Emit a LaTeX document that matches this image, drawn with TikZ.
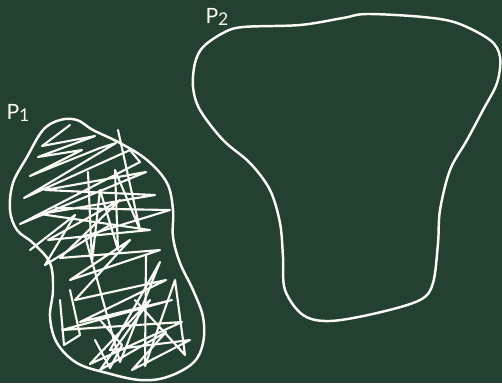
\documentclass[tikz,border=0pt]{standalone}
\usepackage{fontspec}
\setmainfont{Lato}
\definecolor{board}{RGB}{36,64,49}
\definecolor{chalk}{RGB}{250,250,244}
\newcommand{\lowsub}[1]{\raisebox{-0.25ex}{\normalsize #1}}
\tikzset{
  outline/.style={chalk, line width=1.4pt, line join=round},
  scribble/.style={chalk, line width=1.2pt, line join=round, line cap=round},
  lab/.style={text=chalk, font=\large}
}
\begin{document}
\begin{tikzpicture}[x={(0.02cm,0)}, y={(0,-0.02cm)}]
\fill[board] (0,0) rectangle (502,383);
\useasboundingbox (0,0) rectangle (502,383);
% labels
\node[lab] (p1) at (18,113) {P\lowsub{1}};
\node[lab] (p2) at (217,17) {P\lowsub{2}};
% region P1
\draw[outline] plot[smooth cycle, tension=0.6] coordinates {
 (60,120) (43,130) (27,157) (13,183) (10,210) (17,230) (33,243) (50,263)
 (53,290) (50,317) (57,343) (77,363) (107,373) (140,380) (167,377)
 (193,363) (203,343) (203,317) (193,290) (180,263) (173,237) (173,210)
 (167,183) (147,160) (120,143) (93,130) (77,120)};
% scribble inside P1
\draw[scribble] (70,125) -- (42,146) -- (95,136) -- (38,157) -- (82,150)
 -- (30,176) -- (100,148) -- (116,143) -- (24,198) -- (130,150) -- (140,162)
 -- (20,224) -- (146,172) -- (45,190) -- (155,195) -- (40,214) -- (150,230)
 -- (48,240) -- (120,200) -- (60,258) -- (160,250) -- (70,280) -- (130,240)
 -- (75,300) -- (166,280) -- (80,322) -- (172,300) -- (62,330) -- (182,322)
 -- (90,364) -- (150,300) -- (100,370) -- (166,332) -- (132,370) -- (190,340)
 -- (110,350) -- (160,262) -- (120,362) -- (85,236) -- (170,210) -- (56,208);
\draw[scribble] (88,172) -- (92,262) -- (100,190) -- (118,250) -- (115,170)
 -- (140,230) -- (118,130);
\draw[scribble] (146,255) -- (145,366) -- (175,280) -- (185,355) -- (135,300);
\draw[scribble] (60,300) -- (64,345) -- (80,335) -- (70,290);
\draw[scribble] (95,340) -- (110,368) -- (122,345) -- (100,320);
\draw[scribble] (30,250) -- (75,215) -- (45,265) -- (110,225);
% region P2
\draw[outline] plot[smooth cycle, tension=0.55] coordinates {
 (203,47) (195,63) (193,87) (200,110) (223,140) (250,163) (270,190)
 (280,223) (283,257) (285,290) (303,315) (330,321) (377,313) (420,300)
 (433,283) (438,243) (440,210) (450,170) (467,140) (483,110) (497,83)
 (500,57) (490,40) (457,23) (423,17) (367,14) (343,18) (300,25) (243,27)
 (223,33)};
\end{tikzpicture}
\end{document}
